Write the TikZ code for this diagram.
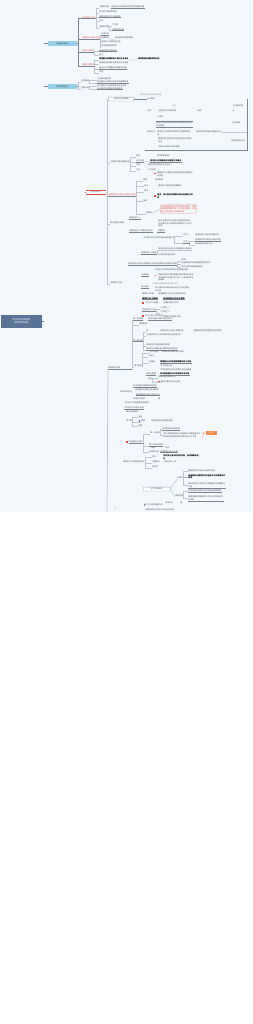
\documentclass[tikz,border=0pt]{standalone}
\usepackage{fontspec}
\setmainfont{Noto Sans CJK SC}
\XeTeXlinebreaklocale "zh"
\XeTeXlinebreakskip = 0pt plus 1pt
\definecolor{bgblue}{RGB}{243,248,252}
\definecolor{rootblue}{RGB}{90,115,150}
\definecolor{topicblue}{RGB}{148,208,232}
\definecolor{lineg}{RGB}{122,132,148}
\definecolor{lightg}{RGB}{190,197,207}
\definecolor{boxg}{RGB}{160,168,182}
\definecolor{txt}{RGB}{75,78,85}
\definecolor{txtl}{RGB}{145,150,158}
\definecolor{red1}{RGB}{232,72,60}
\definecolor{orange1}{RGB}{240,140,80}
\definecolor{blue1}{RGB}{60,120,220}

\begin{document}
\begin{tikzpicture}[x=1mm, y=-1mm,
  t/.style={anchor=west, inner xsep=0.3mm, inner ysep=0.25mm, text=txt, font=\fontsize{5.5}{7.5}\selectfont},
  tr/.style={t, text=red1},
  tb/.style={t, text=black, font=\fontsize{5.5}{7.5}\selectfont\bfseries},
  tl/.style={t, text=txtl},
  tw/.style={t, text width=#1, align=left},
  root/.style={fill=rootblue, text=white, minimum width=41mm, minimum height=12.5mm, align=center, font=\fontsize{6.5}{8}\selectfont},
  topic/.style={fill=topicblue, text=txt, minimum width=29mm, minimum height=5mm, inner sep=0.3mm, font=\fontsize{5.5}{7.5}\selectfont},
  mainred/.style={text=txt, minimum width=19mm, minimum height=3.6mm, inner sep=0.3mm, font=\fontsize{5.5}{7.5}\selectfont},
  box/.style={t, draw=boxg, fill=white, rounded corners=0.6mm, line width=0.3mm, minimum height=3.8mm},
  redbox/.style={t, text=red1, text width=35mm, align=left, draw=red1, dashed, rounded corners=2.5mm, line width=0.3mm, inner sep=0.8mm},
  tag/.style={fill=orange1, text=white, minimum width=11mm, minimum height=3.2mm, inner sep=0.2mm, font=\fontsize{5}{6}\selectfont},
  mkr/.style={fill=red1, minimum size=1.5mm, inner sep=0},
  mkb/.style={fill=blue1, minimum size=1.5mm, inner sep=0},
  ln/.style={draw=lineg, line width=0.75mm},
  lt/.style={draw=lightg, line width=0.5mm},
  lm/.style={draw=lightg, line width=0.75mm},
  tagln/.style={draw=orange1, line width=0.6mm, dotted}]

\fill[bgblue] (0,0) rectangle (252,512);
\fill[white] (0,512) rectangle (252,1024);
\useasboundingbox (0,0) rectangle (252,1024);

% root
\node[root] (root) at (21.5,321.5) {学科知识体系结构\\思维导图总结};
\coordinate (rootend) at (44,321.5);
\draw[ln] (root.east) -- (rootend);

% branch 1
\node[topic] (b1) at (62.5,43.5) {基础知识部分};
\coordinate (b1in) at (43.5,43.5);
\draw[ln] (b1in) -- (b1.west);
\node[tr] (r1) at (82,17.5) {基本概念与定义};
\node[tr] (r2) at (82,38) {主要特点与基本作用};
\node[tr] (r3) at (82,51) {基本方法原则};
\node[tr] (r4) at (82,65) {重要注意事项};
\draw[ln] (b1.east) -- ++(1.5,0) coordinate (b1k);
\foreach \c in {r1,r2,r3,r4} \draw[ln] (b1k) |- (\c.south east);

\node[t] (a1) at (99,7) {主要的内容};
\node[t] (a1x) at (111,7) {相关知识点的具体说明与举例解释内容};
\node[t] (a2) at (99,12) {常见的问题及其原因};
\node[t] (a3) at (99,16.5) {需要注意的几个关键问题};
\node[t] (a4) at (99,20.5) {示例};
\node[t] (a5) at (99,27) {适用的范围};
\node[t] (a5a) at (112,25) {子主题};
\node[t] (a5b) at (112,29.5) {具体实施步骤};
\foreach \c in {a1,a2,a3,a4,a5} \draw[lt] (r1.south east) |- (\c.south west);
\draw[lt] (a1.south east) -- (a1x.south west);
\foreach \c in {a5a,a5b} \draw[lt] (a5.south east) |- (\c.south west);

\node[t] (b21) at (101,34) {分类方法};
\node[t] (b22) at (101,38) {主要特点};
\node[t] (b22x) at (115,38) {相关概念的具体解释};
\node[t] (b23) at (101,42) {各部分之间的相互关系};
\node[t] (b24) at (101,46) {常见应用场景举例};
\foreach \c in {b21,b22,b23,b24} \draw[lt] (r2.south east) |- (\c.south west);
\draw[lt] (b22.south east) -- (b22x.south west);

\node[t] (c1) at (99,50.5) {具体的操作流程说明};
\node[t] (c2) at (99,54.5) {备注};
\foreach \c in {c1,c2} \draw[lt] (r3.south east) |- (\c.south west);

\node[tb] (d1) at (99,58.7) {需要重点掌握的核心知识点与考点};
\node[tb] (d1x) at (138,58.7) {典型例题及解题思路分析};
\node[t] (d2) at (99,63) {容易混淆的概念及其区分方法总结};
\node[t] (d3) at (99,67.7) {相关公式与重要结论的推导过程};
\node[t] (d4) at (99,72) {其他};
\foreach \c in {d1,d2,d3,d4} \draw[lt] (r4.south east) |- (\c.south west);
\draw[lt] (d1.south east) -- (d1x.south west);

% branch 2
\node[topic] (b2) at (62.5,86.5) {拓展提高部分};
\coordinate (b2in) at (43.5,86.5);
\draw[ln] (b2in) -- (b2.west);
\draw[ln] (b2.east) -- ++(1.5,0) coordinate (b2k);
\node[t] (s1) at (81,81) {总体概述};
\node[t] (s2) at (81,88) {内容小结};
\foreach \c in {s1,s2} \draw[lt] (b2k) |- (\c.south west);
\node[t] (g1) at (97,79) {子主题内容说明};
\node[t] (g2) at (97,82) {相关要点与说明以及补充的重要内容};
\node[t] (g3) at (97,85.5) {各个知识点之间的联系与区别总结};
\node[t] (g4) at (97,88.5) {补充说明与拓展阅读内容推荐};
\foreach \c in {g1,g2} \draw[lt] (s1.south east) |- (\c.south west);
\foreach \c in {g3,g4} \draw[lt] (s2.south east) |- (\c.south west);

% branch 3
\node[mainred] (m) at (96,192) {分支主题三};
\draw[red1, line width=0.45mm] (m.north west) -- (m.north east) (m.south west) -- (m.south east);
\coordinate (min) at (84.5,192);
\draw[ln] (min) -- (m.west);
\draw[lm] (m.east) -- (107,192) coordinate (mk);

\node[box, minimum width=26mm] (m1) at (108,99) {主要分支内容概述};
\node[t] (m2) at (110,162) {主要知识要点梳理总结};
\node[tr] (m3) at (108,195) {本章的重点与难点内容分析讲解};
\node[t] (m4) at (110,223) {知识拓展与延伸};
\node[t] (m5) at (110,283) {本章知识总结};
\draw[lm] (mk) |- (m1.west);
\foreach \c in {m2,m3,m4,m5} \draw[lm] (mk) |- (\c.south west);

\node[tl] (n0) at (140,95) {相关补充说明与拓展内容};
\node[t] (n1) at (147,99) {核心要点};
\draw[ln] (m1.east) -- (n1.west);
\draw[ln] (145,150) -| (247,99);
\node[tl] (p1) at (172,106) {备注};
\node[t] (p1r) at (233,106) {补充的说明};
\node[t] (p2) at (147,111) {分类};
\node[t] (p2a) at (158,111) {主要分类方式及依据};
\node[t] (p2b) at (197,111) {说明};
\node[t] (p2c) at (232,111) {注};
\node[t] (p3) at (157,116.5) {小示例};
\node[tw=36mm, inner ysep=0.9mm] (p4) at (156,124.4) {各种方法的优缺点比较以及适用的条件分析与说明};
\draw[ln] (p4.north west) -- (p4.north east) (p4.south west) -- (p4.south east);
\node[t] (p4r) at (232,123) {对比结果};
\node[t] (p5) at (147,132) {其他方法};
\node[t] (p5a) at (157,132) {具体的方法步骤与相关的注意事项说明};
\node[t] (p5b) at (196,132) {相关的延伸内容与拓展知识点};
\coordinate (pe) at (247,132);
\draw[lt] (p5b.east) -- (pe);
\node[t] (p5c) at (157,135) {例};
\node[tw=34mm] (p6) at (158,140) {需要特别注意的常见错误类型以及改正方法};
\node[t] (p6r) at (231,141) {常见易错点总结};
\node[t] (p7) at (158,147) {本部分内容的小结与回顾};

\node[t] (q1) at (136,156) {概念};
\node[t] (q1a) at (157,156) {基本概念解释};
\node[t] (q2) at (136,160.7) {定义内容};
\node[tb] (q2a) at (150,160.7) {相关定义的准确表述与理解方法要点};
\node[t] (q3) at (136,165) {性质};
\node[t] (q3a) at (147,165) {主要性质及其判定方法总结};
\node[t] (q4) at (136,169.7) {公式};
\node[t] (q4a) at (148,169.7) {公式变形};
\node[mkr] (q5m) at (155,173.5) {};
\node[tw=36mm] (q5) at (157,174.5) {重要结论与推论的证明过程及其在解题中的应用};
\foreach \c in {q1,q2,q3,q4} \draw[lt] (m2.south east) |- (\c.south west);
\draw[lt] (q2.south east) -- (q2a.south west);

\node[t] (u1) at (143,180) {例题};
\node[t] (u1a) at (155,180) {典型例题};
\node[t] (u2) at (144,185.5) {练习};
\node[t] (u2a) at (158,185.5) {课后练习题及参考答案解析};
\node[t] (u3) at (144,191) {其他};
\node[mkr] (u4m) at (155,196) {};
\node[tb, text width=36mm, align=left] (u4) at (157,196.5) {重点：核心概念的理解与综合应用能力培养};
\node[t] (u5) at (143,200.5) {难点};
\node[t] (u6) at (146,213) {易错点};
\node[redbox, anchor=west] (u6a) at (160,209) {学生在解题过程中经常出现的错误，主要包括概念理解不清、公式记忆错误、计算粗心以及审题不仔细等问题};
\foreach \c in {u1,u2,u3,u5,u6} \draw[lt] (m3.south east) |- (\c.south west);
\draw[lt] (u6.east) -- (u6a.west);

\node[t] (v1) at (129,218) {拓展内容之一};
\node[tw=34mm] (v1a) at (158,223.5) {相关内容的补充说明与拓展阅读材料，以及课外学习的推荐资源和学习方法介绍等};
\node[t] (v2) at (129,231) {拓展内容之二的概述与说明};
\node[t] (v2a) at (157,231) {主要要点};
\node[t] (v3) at (143,238) {多个知识点之间的综合运用思路方法};
\node[t] (v3a) at (183,235) {方法一};
\node[t] (v3aa) at (195,235) {直接运用公式进行求解计算};
\node[t] (v3b) at (183,242) {方法二};
\node[t] (v3ba) at (195,239.7) {利用相关的性质进行转化处理};
\node[t] (v3bb) at (195,243.7) {数形结合的分析方法};
\foreach \c in {v3a,v3b} \draw[lt] (v3.south east) |- (\c.south west);
\foreach \c in {v3ba,v3bb} \draw[lt] (v3b.south east) |- (\c.south west);
\node[t] (v4) at (141,253) {拓展内容之三概述};
\node[t] (v4a) at (158,249) {相关的知识点总结与归纳概括以及梳理};
\node[t] (v4b) at (158,255) {补充说明内容与例子};
\draw[lt] (v4.south east) |- (v4a.south east);
\node[t] (v5) at (128,264) {综合应用与实际问题的解决方法及其具体的步骤说明内容};
\node[t] (v5a) at (181,259.7) {步骤一};
\node[t] (v5b) at (181,263) {分析题目条件并确定解题思路方法};
\node[t] (v5c) at (181,266.3) {列式计算并得出最终结论};
\foreach \c in {v5a,v5b,v5c} \draw[lt] (v5.south east) |- (\c.south west);
\node[t] (v6) at (155,270) {实际生活中的应用举例以及相关的案例};
\node[t] (v7) at (141,275) {注意事项};
\node[mkr] (v7m) at (155.5,275.5) {};
\node[tw=35mm] (v7a) at (158,277.5) {在解决实际问题时需要注意的事项以及常见的错误分析和应对方法，以及相应的改进措施};

\node[tl] (w1) at (152,284) {本章知识框架结构图及其说明};
\node[t] (w2) at (141,287) {核心要点};
\node[tw=34mm] (w2a) at (155,289.3) {核心要点的归纳总结与记忆方法以及相关口诀};
\node[t] (w3) at (142,294) {解题方法归纳};
\node[t] (w3a) at (158,294) {常用解题方法与技巧的总结归纳};
\node[tb] (w4) at (142,298.3) {重要考点汇总整理};
\node[tb] (w4a) at (163,298.3) {历年真题考点分析与预测};
\node[mkr] (w5m) at (143,303) {};
\node[t] (w5) at (145,303) {学习方法与建议};
\node[t] (w5a) at (163,303) {合理安排复习时间};
\node[t] (w6) at (142,310) {阶段性学习小结};
\node[t] (w6a) at (160,308) {子主题之一};
\node[t] (w6b) at (160,312) {子主题之二};
\foreach \c in {w6a,w6b} \draw[lt] (w6.south east) |- (\c.south west);
\node[mkr] (w7m) at (143,316) {};
\node[t] (w7) at (145,316) {复习计划与时间安排};
\node[t] (w7a) at (163,316.3) {每周复习的重点内容};

% other content
\node[t] (L) at (108,368) {其他相关内容};
\draw[ln] (L.south east) -- ++(11.5,0) coordinate (Lk);
\node[t] (x1) at (133,319) {第一类内容};
\node[t] (x1a) at (148,319) {相关内容的详细介绍与说明};
\node[t] (x2) at (139,324) {简要说明};
\node[t] (x3) at (133,340.5) {第二类内容};
\node[t] (x5) at (134,366) {第三类别};
\foreach \c in {x1,x2,x3,x5} \draw[lt] (Lk) |- (\c.south west);
\node[t] (y1) at (146,331) {例};
\node[t] (y1a) at (160,331) {具体的例子分析与讲解过程};
\node[t] (y1b) at (192,331) {［拓展阅读材料的推荐与相关说明］};
\node[t] (y2) at (146,335) {与其他知识点之间的联系及综合运用方法};
\node[t] (y3) at (146,345) {相关的练习题目及参考答案};
\node[t] (y4) at (146,349) {课后作业布置与复习要求的说明内容};
\foreach \c in {y1,y2,y3,y4} \draw[lt] (x3.south east) |- (\c.south west);
\node[t] (z1) at (150,352) {补充内容};
\node[t] (z1a) at (162,352) {相关的补充知识点与说明};
\node[t] (z2) at (148,356) {小备注};
\node[t] (z3) at (149,362) {划重点};
\node[tb] (z3a) at (160,362) {需要重点记忆和理解掌握的核心内容};
\node[t] (z4) at (160,366) {本节内容小结};
\foreach \c in {z1,z2,z3} \draw[lt] (x5.south east) |- (\c.south west);
\node[t] (z5) at (160,370) {本节内容的总结与回顾以及知识梳理};
\node[t] (o1) at (146,374) {归纳与整理};
\node[tb] (o1a) at (160,374) {知识结构图示与关系说明以及归纳};
\node[t] (o2) at (158,377.2) {思维导图的绘制方法};
\node[t] (o3) at (148,379) {图示};
\node[mkr] (o4m) at (159,381.3) {};
\node[t] (o4) at (160.5,381.3) {重点内容的标注与说明};
\foreach \c in {o2,o4} \draw[lt] (o3.south east) |- (\c.south west);

\coordinate (bend) at (107,512);
\draw[lm] (L.south west) -- (bend);

\node[t] (e0) at (120,392) {知识点的补充};
\node[t] (e1) at (133,386) {补充内容的详细说明与举例};
\node[t] (e1a) at (135,390) {相关概念的辨析与比较说明};
\node[t] (e1b) at (136,394.3) {典型错误的分析与纠正方法};
\node[t] (f0) at (133,399) {其他补充说明};
\node[t] (f0a) at (158,399) {略};
\node[t] (f1) at (125,403) {知识点之间的逻辑关系梳理};
\node[t] (f2) at (124,408) {学习的方法与技巧总结};
\node[t] (f3) at (126,412) {课外阅读推荐};

\node[t] (g0) at (126,421) {练习题};
\node[t] (g0a) at (138,416.5) {基础};
\node[mkb] (g0bm) at (139.5,421) {};
\node[t] (g0b) at (141,421) {提高};
\node[t] (g0bx) at (151,421) {综合提高练习题目及答案};
\node[t] (g0c) at (138,425.5) {拓展};
\foreach \c in {g0a,g0b,g0c} \draw[lt] (g0.south east) |- (\c.south west);

\node[mkr] (h0m) at (127,442) {};
\node[t] (h0) at (128.5,442) {阶段测试与评价};
\node[t] (i1) at (150,433) {第一次测试};
\node[t] (i1t) at (162,429) {测试内容及范围说明};
\node[tw=37mm] (i1a) at (163,435.5) {测试主要考查学生对基础知识的掌握情况以及综合运用知识解决问题的能力水平等};
\node[tag] (tag) at (211.5,433) {重点};
\draw[tagln] ([xshift=1.2mm]i1a.north east) -- ([xshift=-1.5mm]tag.west) -- ([xshift=1.2mm]i1a.south east);
\node[t] (i2) at (149,445) {第二次测试安排};
\node[t] (i3) at (151,448) {成绩};
\node[t] (i3a) at (165,448) {分析};
\node[t] (i4) at (149,451.5) {测试的总结};
\node[t] (i4a) at (160,451.5) {测试结果分析与反思};
\foreach \c in {i1,i2,i4} \draw[lt] (h0.south east) |- (\c.south west);
\foreach \c in {i1t,i1a} \draw[lt] (i1.south east) |- (\c.west);

\node[t] (j0) at (123,462) {课后复习与巩固提高方法};
\node[t] (j1) at (152,456.5) {复习};
\node[tb, text width=36mm, align=left] (j1a) at (163,457) {及时复习当天所学的内容，加深理解和记忆};
\node[t] (j2) at (152,462) {巩固练习};
\node[t] (j2a) at (164,462) {每日坚持一练};
\node[t] (j3) at (152,467) {再反思};
\foreach \c in {j1,j2,j3} \draw[lt] (j0.south east) |- (\c.south west);

\node[box, minimum width=27mm] (k0) at (143,489) {学习资源推荐};
\node[t] (k1) at (177,478) {参考书};
\node[t] (k2) at (175,496) {视频资源};
\draw[lt] (k0.east) -- (k1.south west);
\draw[lt] (k0.east) -- (k2.south west);
\node[t] (l1) at (188,471) {推荐的参考书目以及阅读的建议};
\node[tb, text width=37mm, align=left] (l2) at (188,476.8) {经典教材与辅导用书的选择方法和使用技巧说明};
\node[tw=37mm] (l3) at (188,485.5) {相关网络学习资源与在线课程平台的推荐与介绍};
\foreach \c in {l1,l2,l3} \draw[lt] (k1.south east) |- (\c.west);
\node[t] (l4) at (188,491) {优质的教学视频以及名师课程讲解推荐};
\node[tw=35mm] (l5) at (188,498.5) {课程视频的观看顺序与学习计划的制定方法说明};
\foreach \c in {l4,l5} \draw[lt] (k2.south east) |- (\c.west);

\node[t] (k3) at (145,505) {学习小组的组建方法};
\draw[ln] ([xshift=-1mm]k3.north west) -- ([xshift=-1mm]k3.south west);
\node[t] (k3a) at (165,503) {交流讨论};
\node[t] (k3b) at (180,503) {略};
\node[t] (k4) at (145,510) {定期开展学习交流与讨论分享活动};
\node[tl] (k5) at (114,509) {注};

% underlines
\foreach \n in {a1x,a3,a5b,b21,c1,d3,g2,g4,m3,q2,q2a,v1,v2,v2a,v3b,v3ba,v4,v5,v7,w2,w4,w4a,w6,L,x1,x1a,x3,y4,z3a,o1,o1a,e1,e1b,f2,h0,i1t,i2,i4a,l3,l4,l5}
  \draw[ln] (\n.south west) -- (\n.south east);
\end{tikzpicture}
\end{document}
